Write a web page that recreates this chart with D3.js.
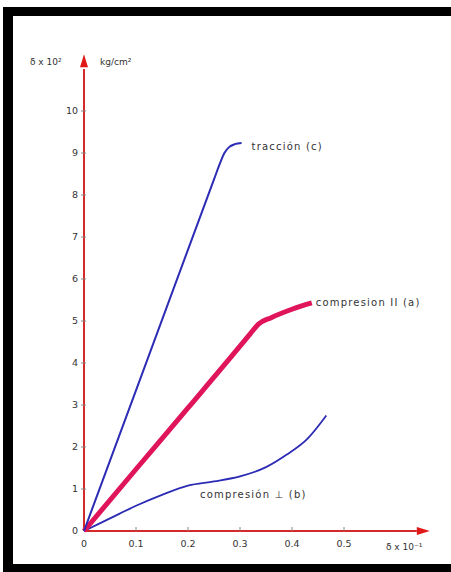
<!DOCTYPE html>
<html>
<head>
<meta charset="utf-8">
<script src="https://cdn.jsdelivr.net/npm/d3@7"></script>
<style>
	body { margin: 0; background: #fff; }
	svg { display: block; }
	text { font-family: "DejaVu Sans", sans-serif; fill: #333; }
	.series-label { font-size: 10px; letter-spacing: 1.2px; }
</style>
</head>
<body>
<div id="chart"></div>
<script>
var width = 451;
var height = 572;

// data
var xTicks = [0, 0.1, 0.2, 0.3, 0.4, 0.5];
var yTicks = [0, 1, 2, 3, 4, 5, 6, 7, 8, 9, 10];

var traccionX = [0, 0.1, 0.2, 0.25, 0.262, 0.27, 0.279, 0.29, 0.303];
var traccionY = [0, 3.35, 6.7, 8.37, 8.77, 9.0, 9.14, 9.21, 9.24];

var compParX = [0, 0.1, 0.2, 0.3, 0.32, 0.335, 0.36, 0.40, 0.438];
var compParY = [0, 1.47, 2.93, 4.4, 4.7, 4.92, 5.08, 5.28, 5.43];

var compPerpX = [0, 0.05, 0.1, 0.15, 0.2, 0.25, 0.3, 0.35, 0.39, 0.43, 0.466];
var compPerpY = [0, 0.3, 0.6, 0.86, 1.08, 1.18, 1.3, 1.52, 1.82, 2.2, 2.75];

var seriesNames = ["tracción (c)", "compresion II (a)", "compresión \u22A5 (b)"];

var x = d3.scaleLinear([0, 0.5], [84, 344]);
var y = d3.scaleLinear([0, 10], [531, 111]);

var svg = d3.select("#chart").append("svg")
	.attr("width", width)
	.attr("height", height);

// black frame
svg.append("rect")
	.attr("x", 3).attr("y", 7)
	.attr("width", width - 3).attr("height", height - 7)
	.attr("fill", "#000");
svg.append("rect")
	.attr("x", 13).attr("y", 16)
	.attr("width", width - 13).attr("height", 548)
	.attr("fill", "#fff");

var axisColor = "#d42a2a";

// axes
svg.append("line")
	.attr("x1", x(0)).attr("x2", x(0.64))
	.attr("y1", y(0)).attr("y2", y(0))
	.attr("stroke", axisColor).attr("stroke-width", 2);
svg.append("path")
	.attr("d", `M${x(0.665)},${y(0)} l-13,-4 l0,8 z`)
	.attr("fill", "#e01818");

svg.append("line")
	.attr("x1", x(0)).attr("x2", x(0))
	.attr("y1", y(0)).attr("y2", y(11.0))
	.attr("stroke", axisColor).attr("stroke-width", 2);
svg.append("path")
	.attr("d", `M${x(0)},${y(11.35)} l-4,13 l8,0 z`)
	.attr("fill", "#e01818");

// y ticks
var yAxis = svg.append("g");
yAxis.selectAll("line")
	.data(yTicks.slice(1))
	.join("line")
	.attr("x1", x(0) - 3).attr("x2", x(0) + 2)
	.attr("y1", d => y(d)).attr("y2", d => y(d))
	.attr("stroke", "#888").attr("stroke-width", 1);
yAxis.selectAll("text")
	.data(yTicks)
	.join("text")
	.attr("x", x(0) - 6)
	.attr("y", d => y(d))
	.attr("dy", "0.35em")
	.attr("text-anchor", "end")
	.attr("font-size", 9.5)
	.text(d => d);

// x ticks
var xAxis = svg.append("g");
xAxis.selectAll("line")
	.data(xTicks.slice(1))
	.join("line")
	.attr("x1", d => x(d)).attr("x2", d => x(d))
	.attr("y1", y(0) - 4).attr("y2", y(0))
	.attr("stroke", "#888").attr("stroke-width", 1);
xAxis.selectAll("text")
	.data(xTicks)
	.join("text")
	.attr("x", d => x(d))
	.attr("y", y(0) + 16)
	.attr("text-anchor", "middle")
	.attr("font-size", 9.5)
	.text(d => d);

// axis titles
svg.append("text")
	.attr("x", 30).attr("y", 65)
	.attr("font-size", 9)
	.text("δ x 10²");
svg.append("text")
	.attr("x", 100).attr("y", 65)
	.attr("font-size", 9)
	.text("kg/cm²");
svg.append("text")
	.attr("x", 386).attr("y", y(0) + 19)
	.attr("font-size", 9)
	.text("δ x 10⁻¹");

// curves
var line = d3.line()
	.x(d => x(d[0]))
	.y(d => y(d[1]))
	.curve(d3.curveMonotoneX);

function pts(xs, ys) {
	return xs.map((v, i) => [v, ys[i]]);
}

svg.append("path")
	.attr("d", line(pts(compPerpX, compPerpY)))
	.attr("fill", "none")
	.attr("stroke", "#2b2bb5")
	.attr("stroke-width", 1.8);

svg.append("path")
	.attr("d", line(pts(compParX, compParY)))
	.attr("fill", "none")
	.attr("stroke", "#e0145a")
	.attr("stroke-width", 5)
	.attr("stroke-linejoin", "round");

svg.append("path")
	.attr("d", line(pts(traccionX, traccionY)))
	.attr("fill", "none")
	.attr("stroke", "#2b2bb5")
	.attr("stroke-width", 2);

// series labels
svg.append("text")
	.attr("class", "series-label")
	.attr("x", x(0.303) + 10).attr("y", y(9.23) + 3)
	.attr("dy", "0.35em")
	.text(seriesNames[0]);
svg.append("text")
	.attr("class", "series-label")
	.attr("x", x(0.438) + 4).attr("y", y(5.43))
	.attr("dy", "0.35em")
	.text(seriesNames[1]);
svg.append("text")
	.attr("class", "series-label")
	.attr("x", 200).attr("y", 494)
	.attr("dy", "0.35em")
	.text(seriesNames[2]);
</script>
</body>
</html>
